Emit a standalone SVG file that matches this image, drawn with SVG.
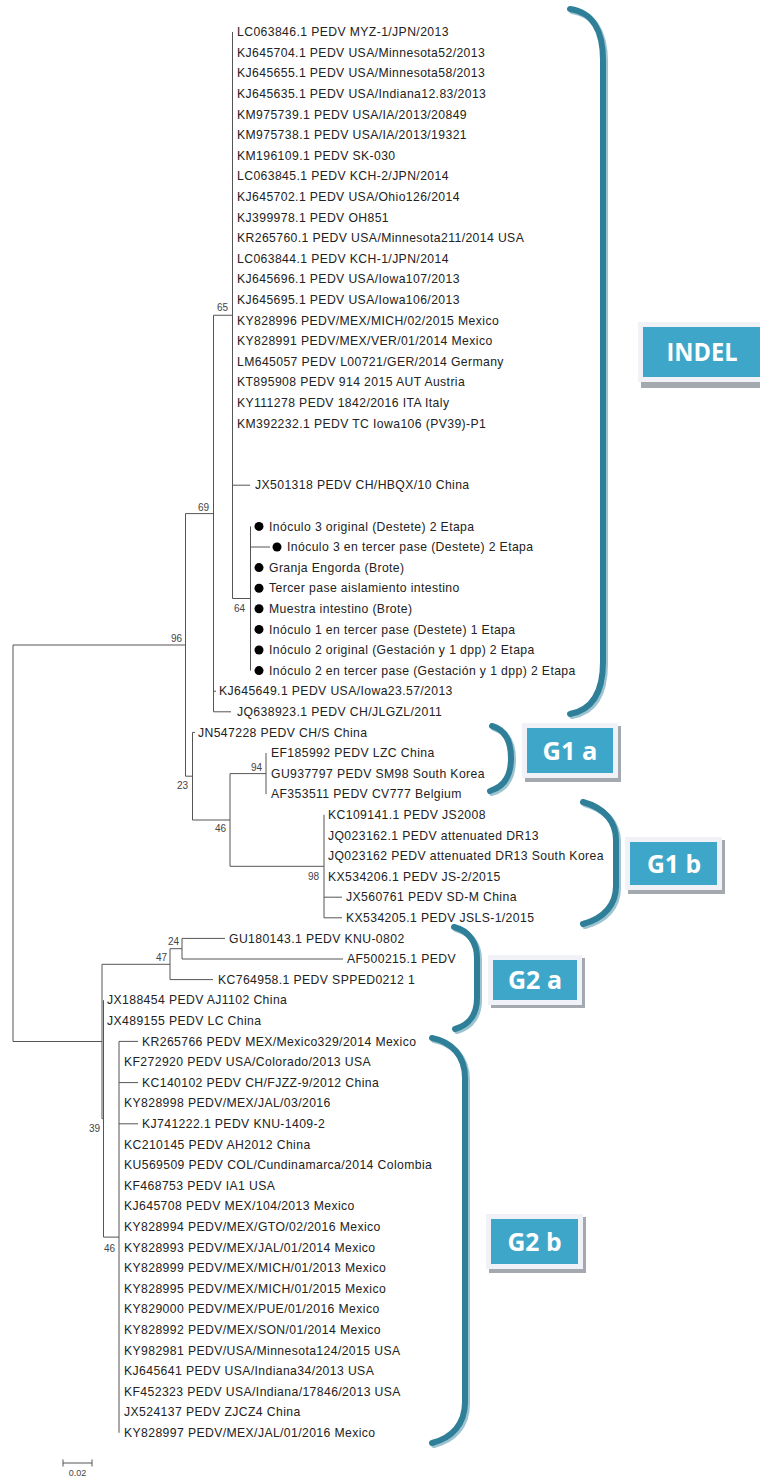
<svg xmlns="http://www.w3.org/2000/svg" width="760" height="1477" viewBox="0 0 760 1477">
<defs>
<style>
.t{font-family:"Liberation Sans",Arial,sans-serif;font-size:12.2px;letter-spacing:0.4px;fill:#222}
.b{font-family:"Liberation Sans",Arial,sans-serif;font-size:10px;fill:#444}
.e{fill:none;stroke:#555;stroke-width:1}
.br{fill:none;stroke:#2f7f99;stroke-width:6;stroke-linecap:round}
.brs{fill:none;stroke:#9cc3d0;stroke-width:6;stroke-linecap:round}
.bx{fill:#3ea6c8}
.bb{fill:#f1f2f7}
.bs{fill:#a3a9ae}
.bl{font-family:"Open Sans","DejaVu Sans",sans-serif;font-weight:bold;font-size:25px;fill:#ffffff}
.dot{fill:#000}
</style>
</defs>
<rect width="760" height="1477" fill="#ffffff"/>

<g id="connectors">
<path class="e" d="M13,645V1041.5M13,645H185.5M13,1041.5H102"/>
<path class="e" d="M185.5,513.6V776.2M185.5,513.6H213.5M185.5,776.2H192.5"/>
<path class="e" d="M213.5,315.25V711.8M213.5,315.25H232.5M213.5,711.8H231M213.5,691.2H216"/>
<path class="e" d="M232.5,32V598.5M232.5,485.2H250M232.5,598.5H250.5"/>
<path class="e" d="M250.5,526.4V670.6M250.5,547H270"/>
<path class="e" d="M192.5,732.4V820M192.5,732.4H195M192.5,820H230"/>
<path class="e" d="M230,773.6V866.3M230,773.6H266M230,866.3H324"/>
<path class="e" d="M266,753V794.2"/>
<path class="e" d="M324,814.8V917.8M324,897.2H342M324,917.8H342"/>
<path class="e" d="M102,964.3V1118.65M102,964.3H170M102,1118.65H103.5"/>
<path class="e" d="M103.5,1000.2V1237.1M103.5,1237.1H119"/>
<path class="e" d="M170,948.7V979.6M170,948.7H182M170,979.6H213"/>
<path class="e" d="M182,938.4V959M182,938.4H225M182,959H343"/>
<path class="e" d="M119,1041.4V1432.8M119,1041.4H138M119,1082.6H138M119,1123.8H138"/>
<path class="e" d="M63,1463H92M63,1459.5V1466.5M92,1459.5V1466.5"/>
</g>

<g id="bootstrap">
<text class="b" x="217" y="311">65</text>
<text class="b" x="198" y="511">69</text>
<text class="b" x="171" y="642">96</text>
<text class="b" x="234" y="612">64</text>
<text class="b" x="177" y="789">23</text>
<text class="b" x="215" y="832">46</text>
<text class="b" x="251" y="771">94</text>
<text class="b" x="308" y="880">98</text>
<text class="b" x="168" y="945">24</text>
<text class="b" x="156" y="961">47</text>
<text class="b" x="89" y="1132">39</text>
<text class="b" x="104" y="1252">46</text>
</g>

<g id="scale">
<text class="b" x="77.5" y="1476" text-anchor="middle" style="font-size:9px">0.02</text>
</g>

<g id="leaves">
<g id="n0"><text class="t" x="237" y="36.2">LC063846.1 PEDV MYZ-1/JPN/2013</text></g>
<g id="n1"><text class="t" x="237" y="56.8">KJ645704.1 PEDV USA/Minnesota52/2013</text></g>
<g id="n2"><text class="t" x="237" y="77.4">KJ645655.1 PEDV USA/Minnesota58/2013</text></g>
<g id="n3"><text class="t" x="237" y="98">KJ645635.1 PEDV USA/Indiana12.83/2013</text></g>
<g id="n4"><text class="t" x="237" y="118.6">KM975739.1 PEDV USA/IA/2013/20849</text></g>
<g id="n5"><text class="t" x="237" y="139.2">KM975738.1 PEDV USA/IA/2013/19321</text></g>
<g id="n6"><text class="t" x="237" y="159.8">KM196109.1 PEDV SK-030</text></g>
<g id="n7"><text class="t" x="237" y="180.4">LC063845.1 PEDV KCH-2/JPN/2014</text></g>
<g id="n8"><text class="t" x="237" y="201">KJ645702.1 PEDV USA/Ohio126/2014</text></g>
<g id="n9"><text class="t" x="237" y="221.6">KJ399978.1 PEDV OH851</text></g>
<g id="n10"><text class="t" x="237" y="242.2">KR265760.1 PEDV USA/Minnesota211/2014 USA</text></g>
<g id="n11"><text class="t" x="237" y="262.8">LC063844.1 PEDV KCH-1/JPN/2014</text></g>
<g id="n12"><text class="t" x="237" y="283.4">KJ645696.1 PEDV USA/Iowa107/2013</text></g>
<g id="n13"><text class="t" x="237" y="304">KJ645695.1 PEDV USA/Iowa106/2013</text></g>
<g id="n14"><text class="t" x="237" y="324.6">KY828996 PEDV/MEX/MICH/02/2015 Mexico</text></g>
<g id="n15"><text class="t" x="237" y="345.2">KY828991 PEDV/MEX/VER/01/2014 Mexico</text></g>
<g id="n16"><text class="t" x="237" y="365.8">LM645057 PEDV L00721/GER/2014 Germany</text></g>
<g id="n17"><text class="t" x="237" y="386.4">KT895908 PEDV 914 2015 AUT Austria</text></g>
<g id="n18"><text class="t" x="237" y="407">KY111278 PEDV 1842/2016 ITA Italy</text></g>
<g id="n19"><text class="t" x="237" y="427.6">KM392232.1 PEDV TC Iowa106 (PV39)-P1</text></g>
<g id="n22"><text class="t" x="255" y="489.4">JX501318 PEDV CH/HBQX/10 China</text></g>
<g id="n24"><circle class="dot" cx="259" cy="526.4" r="4.5"/><text class="t" x="269" y="530.6">Inóculo 3 original (Destete) 2 Etapa</text></g>
<g id="n25"><circle class="dot" cx="277" cy="547" r="4.5"/><text class="t" x="287" y="551.2">Inóculo 3 en tercer pase (Destete) 2 Etapa</text></g>
<g id="n26"><circle class="dot" cx="259" cy="567.6" r="4.5"/><text class="t" x="269" y="571.8">Granja Engorda (Brote)</text></g>
<g id="n27"><circle class="dot" cx="259" cy="588.2" r="4.5"/><text class="t" x="269" y="592.4">Tercer pase aislamiento intestino</text></g>
<g id="n28"><circle class="dot" cx="259" cy="608.8" r="4.5"/><text class="t" x="269" y="613">Muestra intestino (Brote)</text></g>
<g id="n29"><circle class="dot" cx="259" cy="629.4" r="4.5"/><text class="t" x="269" y="633.6">Inóculo 1 en tercer pase (Destete) 1 Etapa</text></g>
<g id="n30"><circle class="dot" cx="259" cy="650" r="4.5"/><text class="t" x="269" y="654.2">Inóculo 2 original (Gestación y 1 dpp) 2 Etapa</text></g>
<g id="n31"><circle class="dot" cx="259" cy="670.6" r="4.5"/><text class="t" x="269" y="674.8">Inóculo 2 en tercer pase (Gestación y 1 dpp) 2 Etapa</text></g>
<g id="n32"><text class="t" x="219" y="695.4">KJ645649.1 PEDV USA/Iowa23.57/2013</text></g>
<g id="n33"><text class="t" x="237" y="716">JQ638923.1 PEDV CH/JLGZL/2011</text></g>
<g id="n34"><text class="t" x="198" y="736.6">JN547228 PEDV CH/S China</text></g>
<g id="n35"><text class="t" x="271" y="757.2">EF185992 PEDV LZC China</text></g>
<g id="n36"><text class="t" x="271" y="777.8">GU937797 PEDV SM98 South Korea</text></g>
<g id="n37"><text class="t" x="271" y="798.4">AF353511 PEDV CV777 Belgium</text></g>
<g id="n38"><text class="t" x="328" y="819">KC109141.1 PEDV JS2008</text></g>
<g id="n39"><text class="t" x="328" y="839.6">JQ023162.1 PEDV attenuated DR13</text></g>
<g id="n40"><text class="t" x="328" y="860.2">JQ023162 PEDV attenuated DR13 South Korea</text></g>
<g id="n41"><text class="t" x="328" y="880.8">KX534206.1 PEDV JS-2/2015</text></g>
<g id="n42"><text class="t" x="346" y="901.4">JX560761 PEDV SD-M China</text></g>
<g id="n43"><text class="t" x="346" y="922">KX534205.1 PEDV JSLS-1/2015</text></g>
<g id="n44"><text class="t" x="229" y="942.6">GU180143.1 PEDV KNU-0802</text></g>
<g id="n45"><text class="t" x="347" y="963.2">AF500215.1 PEDV</text></g>
<g id="n46"><text class="t" x="218" y="983.8">KC764958.1 PEDV SPPED0212 1</text></g>
<g id="n47"><text class="t" x="107" y="1004.4">JX188454 PEDV AJ1102 China</text></g>
<g id="n48"><text class="t" x="107" y="1025">JX489155 PEDV LC China</text></g>
<g id="n49"><text class="t" x="142" y="1045.6">KR265766 PEDV MEX/Mexico329/2014 Mexico</text></g>
<g id="n50"><text class="t" x="124" y="1066.2">KF272920 PEDV USA/Colorado/2013 USA</text></g>
<g id="n51"><text class="t" x="142" y="1086.8">KC140102 PEDV CH/FJZZ-9/2012 China</text></g>
<g id="n52"><text class="t" x="124" y="1107.4">KY828998 PEDV/MEX/JAL/03/2016</text></g>
<g id="n53"><text class="t" x="142" y="1128">KJ741222.1 PEDV KNU-1409-2</text></g>
<g id="n54"><text class="t" x="124" y="1148.6">KC210145 PEDV AH2012 China</text></g>
<g id="n55"><text class="t" x="124" y="1169.2">KU569509 PEDV COL/Cundinamarca/2014 Colombia</text></g>
<g id="n56"><text class="t" x="124" y="1189.8">KF468753 PEDV IA1 USA</text></g>
<g id="n57"><text class="t" x="124" y="1210.4">KJ645708 PEDV MEX/104/2013 Mexico</text></g>
<g id="n58"><text class="t" x="124" y="1231">KY828994 PEDV/MEX/GTO/02/2016 Mexico</text></g>
<g id="n59"><text class="t" x="124" y="1251.6">KY828993 PEDV/MEX/JAL/01/2014 Mexico</text></g>
<g id="n60"><text class="t" x="124" y="1272.2">KY828999 PEDV/MEX/MICH/01/2013 Mexico</text></g>
<g id="n61"><text class="t" x="124" y="1292.8">KY828995 PEDV/MEX/MICH/01/2015 Mexico</text></g>
<g id="n62"><text class="t" x="124" y="1313.4">KY829000 PEDV/MEX/PUE/01/2016 Mexico</text></g>
<g id="n63"><text class="t" x="124" y="1334">KY828992 PEDV/MEX/SON/01/2014 Mexico</text></g>
<g id="n64"><text class="t" x="124" y="1354.6">KY982981 PEDV/USA/Minnesota124/2015 USA</text></g>
<g id="n65"><text class="t" x="124" y="1375.2">KJ645641 PEDV USA/Indiana34/2013 USA</text></g>
<g id="n66"><text class="t" x="124" y="1395.8">KF452323 PEDV USA/Indiana/17846/2013 USA</text></g>
<g id="n67"><text class="t" x="124" y="1416.4">JX524137 PEDV ZJCZ4 China</text></g>
<g id="n68"><text class="t" x="124" y="1437">KY828997 PEDV/MEX/JAL/01/2016 Mexico</text></g>
</g>

<g id="clade-INDEL">
<path class="brs" d="M572,11C594,14 605,32 605,62L605,664C605,694 594,712 572,716"/>
<path class="br" d="M570,9C592,12 603,30 603,60L603,662C603,692 592,710 570,714"/>
<rect class="bs" x="641" y="325" width="125" height="63"/>
<rect class="bb" x="638" y="322" width="125" height="60"/>
<rect class="bx" x="643" y="327" width="120" height="50"/>
<text class="bl" x="702" y="361" text-anchor="middle" textLength="71" lengthAdjust="spacingAndGlyphs">INDEL</text>
</g>

<g id="clade-G1a">
<path class="brs" d="M494,728C508,732 513,744 513,760C513,776 508,788 492,793"/>
<path class="br" d="M492,726C506,730 511,742 511,758C511,774 506,786 490,791"/>
<rect class="bs" x="525" y="726" width="96" height="56"/>
<rect class="bb" x="522" y="723" width="96" height="55"/>
<rect class="bx" x="527" y="728" width="86" height="45"/>
<text class="bl" x="570" y="759.5" text-anchor="middle" textLength="55" lengthAdjust="spacingAndGlyphs">G1 a</text>
</g>

<g id="clade-G1b">
<path class="brs" d="M585,804C607,810 618,824 618,842L618,888C618,906 607,920 585,926"/>
<path class="br" d="M583,802C605,808 616,822 616,840L616,886C616,904 605,918 583,924"/>
<rect class="bs" x="628" y="840" width="97" height="54"/>
<rect class="bb" x="625" y="837" width="97" height="53"/>
<rect class="bx" x="630" y="842" width="87" height="43"/>
<text class="bl" x="674" y="872.5" text-anchor="middle" textLength="54" lengthAdjust="spacingAndGlyphs">G1 b</text>
</g>

<g id="clade-G2a">
<path class="brs" d="M456,929C472,933 479,946 479,960L479,1000C479,1015 472,1027 457,1031"/>
<path class="br" d="M454,927C470,931 477,944 477,958L477,998C477,1013 470,1025 455,1029"/>
<rect class="bs" x="491" y="958" width="94" height="50"/>
<rect class="bb" x="488" y="955" width="94" height="50"/>
<rect class="bx" x="493" y="960" width="84" height="40"/>
<text class="bl" x="535" y="989" text-anchor="middle" textLength="54" lengthAdjust="spacingAndGlyphs">G2 a</text>
</g>

<g id="clade-G2b">
<path class="brs" d="M434,1040C454,1044 467,1058 467,1080L467,1404C467,1426 454,1440 434,1445"/>
<path class="br" d="M432,1038C452,1042 465,1056 465,1078L465,1402C465,1424 452,1438 432,1443"/>
<rect class="bs" x="489" y="1217" width="97" height="56"/>
<rect class="bb" x="486" y="1214" width="97" height="55"/>
<rect class="bx" x="491" y="1219" width="87" height="45"/>
<text class="bl" x="534.5" y="1250.5" text-anchor="middle" textLength="54" lengthAdjust="spacingAndGlyphs">G2 b</text>
</g>
</svg>
